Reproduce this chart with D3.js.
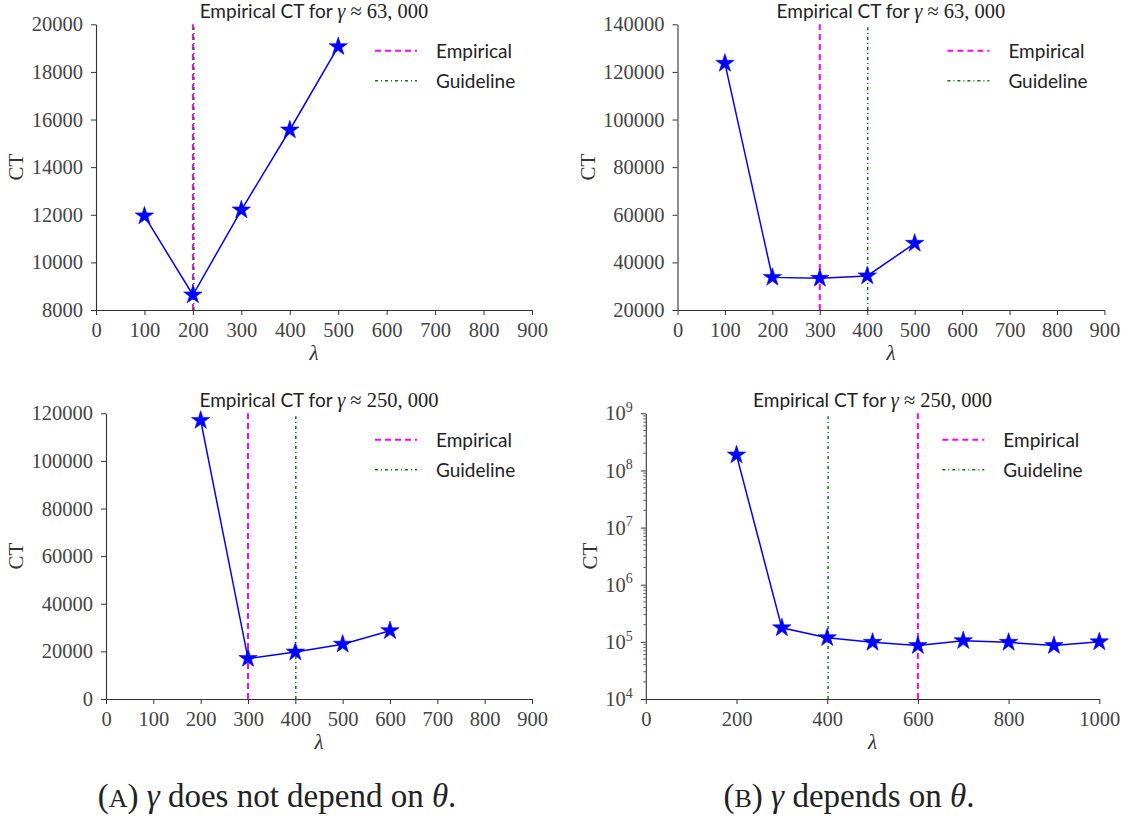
<!DOCTYPE html>
<html lang="en">
<head>
<meta charset="UTF-8">
<title>Empirical CT</title>
<script src="https://cdn.jsdelivr.net/npm/d3@7"></script>
<style>
  body { margin: 0; background: #fff; }
  svg { display: block; }
</style>
</head>
<body>
<div id="chart"></div>
<script>
// --- data ---
var lamA1 = [100, 200, 300, 400, 500];
var ctA1  = [11950, 8630, 12200, 15560, 19060];
var lamB1 = [100, 200, 300, 400, 500];
var ctB1  = [123600, 33700, 33300, 34300, 48000];
var lamA2 = [200, 300, 400, 500, 600];
var ctA2  = [117000, 17000, 19700, 23000, 28700];
var lamB2 = [200, 300, 400, 500, 600, 700, 800, 900, 1000];
var ctB2  = [1.86e8, 1.76e5, 1.18e5, 9.8e4, 8.6e4, 1.05e5, 9.8e4, 8.6e4, 1.0e5];

// vertical reference lines: [empirical, guideline]
var refA1 = [200, 202];
var refB1 = [300, 401];
var refA2 = [300, 401];
var refB2 = [600, 402];

var xTicks9  = [0, 100, 200, 300, 400, 500, 600, 700, 800, 900];
var xTicks10 = [0, 200, 400, 600, 800, 1000];
var yTicksA1 = [8000, 10000, 12000, 14000, 16000, 18000, 20000];
var yTicksB1 = [20000, 40000, 60000, 80000, 100000, 120000, 140000];
var yTicksA2 = [0, 20000, 40000, 60000, 80000, 100000, 120000];
var yTicksB2 = [1e4, 1e5, 1e6, 1e7, 1e8, 1e9];

var gammaA = "63, 000";
var gammaB = "250, 000";
var legendNames = ["Empirical", "Guideline"];

var SANS = "Lato, 'Open Sans', sans-serif";
var SERIF = "'Liberation Serif', 'DejaVu Serif', serif";

var svg = d3.select("#chart").append("svg")
    .attr("width", 1123).attr("height", 818);

function drawPanel(p) {
  var x = d3.scaleLinear().domain(p.xDomain).range([p.left, p.right]);
  var y = (p.log ? d3.scaleLog() : d3.scaleLinear()).domain(p.yDomain).range([p.bottom, p.top]);
  var g = svg.append("g");

  // reference lines (behind data)
  g.append("line")
    .attr("x1", x(p.ref[0])).attr("x2", x(p.ref[0]))
    .attr("y1", p.bottom).attr("y2", p.top)
    .attr("stroke", "#ff00ff").attr("stroke-width", 2)
    .attr("stroke-dasharray", "6,4");
  g.append("line")
    .attr("x1", x(p.ref[1])).attr("x2", x(p.ref[1]))
    .attr("y1", p.bottom).attr("y2", p.top + 3)
    .attr("stroke", "#008000").attr("stroke-width", 1.5)
    .attr("stroke-dasharray", "3,3,1,3");

  // x axis
  var xa = g.append("g")
    .attr("transform", "translate(0," + p.bottom + ")")
    .call(d3.axisBottom(x).tickValues(p.xTicks).tickSize(5).tickSizeOuter(0).tickPadding(7).tickFormat(d3.format("d")));
  // y axis
  var yAxis = d3.axisLeft(y).tickValues(p.yTicks).tickSize(5).tickSizeOuter(0).tickPadding(8);
  if (p.log) yAxis.tickFormat(function() { return ""; });
  else yAxis.tickFormat(d3.format("d"));
  var ya = g.append("g")
    .attr("transform", "translate(" + p.left + ",0)")
    .call(yAxis);

  [xa, ya].forEach(function(a) {
    a.select(".domain").attr("stroke", "#333").attr("stroke-width", 1.1);
    a.selectAll(".tick line").attr("stroke", "#333").attr("stroke-width", 1);
    a.selectAll(".tick text").attr("font-family", SERIF).attr("font-size", 20.5).attr("fill", "#444");
  });

  if (p.log) {
    // minor ticks
    var minors = [];
    for (var e = 4; e < 9; e++) for (var m = 2; m <= 9; m++) minors.push(m * Math.pow(10, e));
    ya.selectAll(".minor").data(minors).enter().append("line")
      .attr("x1", -2.5).attr("x2", 0)
      .attr("y1", function(d) { return y(d); }).attr("y2", function(d) { return y(d); })
      .attr("stroke", "#333").attr("stroke-width", 0.8);
    // power labels
    ya.selectAll(".tick text").each(function(d) {
      var t = d3.select(this).text(null);
      t.append("tspan").text("10");
      t.append("tspan").attr("font-size", 14).attr("dy", "-0.6em").text(Math.round(Math.log10(d)));
    });
  }

  // data line and stars
  var pts = p.lam.map(function(l, i) { return [l, p.ct[i]]; });
  g.append("path")
    .attr("d", d3.line().x(function(d) { return x(d[0]); }).y(function(d) { return y(d[1]); })(pts))
    .attr("fill", "none").attr("stroke", "#0000ff").attr("stroke-width", 1.5);
  g.selectAll(".star").data(pts).enter().append("path")
    .attr("transform", function(d) { return "translate(" + x(d[0]) + "," + y(d[1]) + ")"; })
    .attr("d", d3.symbol(d3.symbolStar).size(105))
    .attr("fill", "#0000ff").attr("stroke", "#0000ff").attr("stroke-width", 0.6);

  // title
  var cx = (p.left + p.right) / 2;
  var title = g.append("text")
    .attr("x", cx).attr("y", p.top - 6)
    .attr("text-anchor", "middle").attr("fill", "#222")
    .attr("font-family", SANS).attr("font-size", 19);
  title.append("tspan").text("Empirical CT for ");
  title.append("tspan").attr("font-family", SERIF).attr("font-style", "italic").attr("font-size", 20.5).text("γ");
  title.append("tspan").attr("font-family", SERIF).attr("font-size", 20.5).text(" ≈ " + p.gamma);

  // axis labels
  g.append("text")
    .attr("x", cx).attr("y", p.bottom + 50)
    .attr("text-anchor", "middle").attr("fill", "#333")
    .attr("font-family", SERIF).attr("font-style", "italic").attr("font-size", 21)
    .text("λ");
  var bb = ya.node().getBBox();
  var lx = p.left - bb.width - 8;
  g.append("text")
    .attr("transform", "translate(" + lx + "," + (p.top + p.bottom) / 2 + ") rotate(-90)")
    .attr("text-anchor", "middle").attr("fill", "#333")
    .attr("font-family", SERIF).attr("font-size", 21)
    .text("CT");

  // legend
  var lg = g.append("g").attr("transform", "translate(" + p.right + "," + p.top + ")");
  lg.append("line").attr("x1", -157).attr("x2", -115).attr("y1", 26.5).attr("y2", 26.5)
    .attr("stroke", "#ff00ff").attr("stroke-width", 2).attr("stroke-dasharray", "6,4");
  lg.append("line").attr("x1", -157).attr("x2", -115).attr("y1", 56.5).attr("y2", 56.5)
    .attr("stroke", "#008000").attr("stroke-width", 1.5).attr("stroke-dasharray", "3,3,1,3");
  lg.selectAll(".lt").data(legendNames).enter().append("text")
    .attr("x", -96).attr("y", function(d, i) { return 34 + 30 * i; })
    .attr("fill", "#222").attr("font-family", SANS).attr("font-size", 19)
    .text(function(d) { return d; });
}

drawPanel({ left: 96, right: 532, top: 24.3, bottom: 310, xDomain: [0, 900], yDomain: [8000, 20000],
  xTicks: xTicks9, yTicks: yTicksA1, lam: lamA1, ct: ctA1, ref: refA1, gamma: gammaA });
drawPanel({ left: 677.5, right: 1104.4, top: 24.3, bottom: 310, xDomain: [0, 900], yDomain: [20000, 140000],
  xTicks: xTicks9, yTicks: yTicksB1, lam: lamB1, ct: ctB1, ref: refB1, gamma: gammaA });
drawPanel({ left: 106, right: 532, top: 413.3, bottom: 699, xDomain: [0, 900], yDomain: [0, 120000],
  xTicks: xTicks9, yTicks: yTicksA2, lam: lamA2, ct: ctA2, ref: refA2, gamma: gammaB });
drawPanel({ left: 645.8, right: 1099.3, top: 413.3, bottom: 699, xDomain: [0, 1000], yDomain: [1e4, 1e9], log: true,
  xTicks: xTicks10, yTicks: yTicksB2, lam: lamB2, ct: ctB2, ref: refB2, gamma: gammaB });

// sub-captions
function caption(xc, letter, rest) {
  var t = svg.append("text").attr("x", xc).attr("y", 807).attr("text-anchor", "middle")
    .attr("font-family", SERIF).attr("font-size", 33).attr("fill", "#222");
  t.append("tspan").text("(");
  t.append("tspan").attr("font-size", 26).text(letter);
  t.append("tspan").text(") ");
  t.append("tspan").attr("font-style", "italic").text("γ");
  t.append("tspan").text(rest);
  t.append("tspan").attr("font-style", "italic").text("θ");
  t.append("tspan").text(".");
}
caption(277, "A", " does not depend on ");
caption(849, "B", " depends on ");
</script>
</body>
</html>
